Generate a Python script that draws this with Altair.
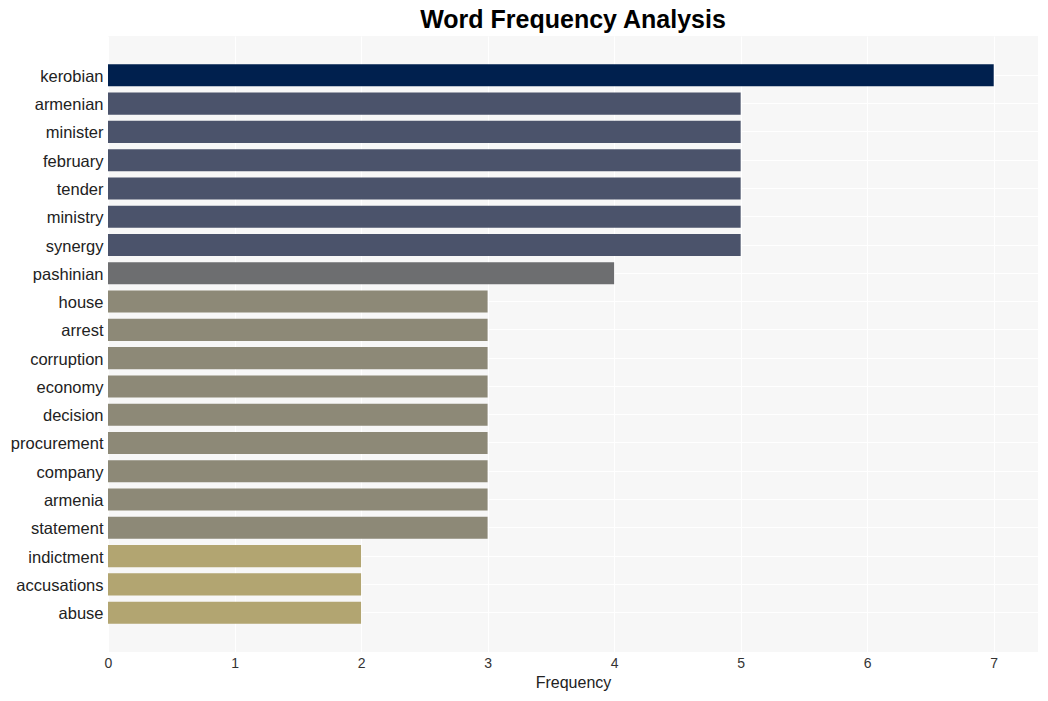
import altair as alt
import pandas as pd

words = ["kerobian", "armenian", "minister", "february", "tender", "ministry", "synergy",
         "pashinian", "house", "arrest", "corruption", "economy", "decision", "procurement",
         "company", "armenia", "statement", "indictment", "accusations", "abuse"]
freqs = [7, 5, 5, 5, 5, 5, 5, 4, 3, 3, 3, 3, 3, 3, 3, 3, 3, 2, 2, 2]

level_values = [7, 5, 4, 3, 2]
level_colors = ["#00204e", "#4b536b", "#6d6e70", "#8d8977", "#b2a571"]

df = pd.DataFrame({"word": words, "freq": freqs})

chart = alt.Chart(df).mark_bar().encode(
    x=alt.X("freq:Q", title="Frequency",
            scale=alt.Scale(domain=[0, 7.35], nice=False, zero=True),
            axis=alt.Axis(values=list(range(8)), grid=True, gridColor="white", gridWidth=1.2,
                          ticks=False, domain=False, labelFontSize=14, labelColor="#333333",
                          titleFontSize=16, titleFontWeight="normal", titleColor="#222222",
                          labelPadding=4, titlePadding=4, labelFont="Liberation Sans",
                          titleFont="Liberation Sans", labelFlush=False)),
    y=alt.Y("word:N", sort=words, title=None,
            scale=alt.Scale(paddingInner=0.22, paddingOuter=1.0),
            axis=alt.Axis(grid=True, gridColor="white", gridWidth=1.2, bandPosition=0.5,
                          ticks=False, domain=False, labelFontSize=16.5, labelColor="#222222",
                          labelPadding=5, labelOffset=1.5, labelFont="Liberation Sans")),
    color=alt.Color("freq:O", scale=alt.Scale(domain=level_values, range=level_colors), legend=None),
).properties(
    width=930, height=616,
    title=alt.TitleParams("Word Frequency Analysis", fontSize=25, fontWeight="bold",
                          font="Liberation Sans", color="#000000", anchor="middle", offset=3),
    autosize=alt.AutoSizeParams(type="none"),
    padding={"left": 108, "top": 36, "right": 10, "bottom": 49},
).configure_view(fill="#f7f7f7", stroke=None)

chart.save("out.html", embed_options={"renderer": "svg", "actions": False})
